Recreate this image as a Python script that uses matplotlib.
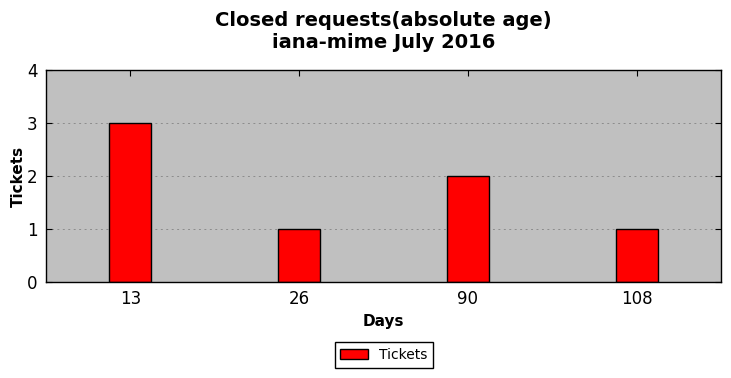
import matplotlib
matplotlib.use("Agg")
import matplotlib.pyplot as plt
import numpy as np

categories = ["13", "26", "90", "108"]
tickets = [3, 1, 2, 1]

fig = plt.figure(figsize=(7.31, 3.78), dpi=100)
ax = fig.add_axes([46/731, 1-282/378, (721-46)/731, (282-70)/378])
ax.set_facecolor("#c0c0c0")
x = np.arange(len(categories))
ax.bar(x, tickets, width=0.25, color="red", edgecolor="black", linewidth=1, label="Tickets", zorder=2)
ax.set_xlim(-0.5, 3.5)
ax.set_ylim(0, 4)
ax.set_xticks(x)
ax.set_xticklabels(categories)
ax.set_yticks([0, 1, 2, 3, 4])
ax.tick_params(direction="in", top=True, right=True, labelsize=12, length=4, width=0.8, pad=6)
ax.yaxis.grid(True, linestyle=(0, (2, 3.6)), color="#8c8c8c", linewidth=0.7, zorder=1)
ax.set_axisbelow(True)
for s in ax.spines.values():
    s.set_linewidth(1)
ax.set_xlabel("Days", fontsize=11, fontweight="bold")
ax.set_ylabel("Tickets", fontsize=11, fontweight="bold", labelpad=1)
ax.set_title("Closed requests(absolute age)\niana-mime July 2016", fontsize=14, fontweight="bold", pad=16)
leg = fig.legend(loc="center", bbox_to_anchor=(384/731, 1-355/378), fontsize=10, fancybox=False,
                 edgecolor="black", framealpha=1, handlelength=2, borderpad=0.4)
leg.get_frame().set_linewidth(1)
fig.savefig("out.png", dpi=100)
